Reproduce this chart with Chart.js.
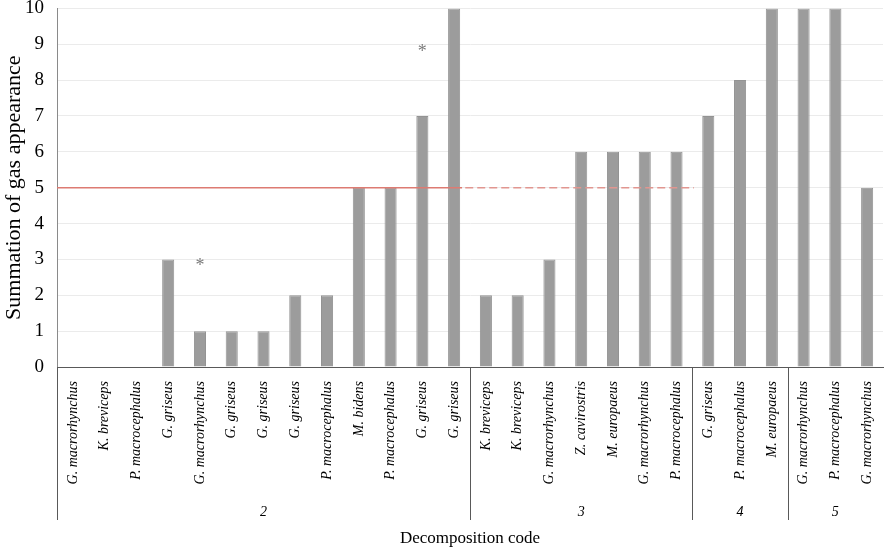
<!DOCTYPE html>
<html lang="en">
<head>
    <meta charset="UTF-8">
    <title>Summation of gas appearance</title>
    <script src="https://cdn.jsdelivr.net/npm/chart.js@4.4.0/dist/chart.umd.min.js"></script>
    <style>
        body {
            margin: 0;
            background: white;
            overflow: hidden;
        }
        .wrap {
            position: relative;
            width: 887px;
            height: 550px;
            overflow: hidden;
        }
        /* canvas is a bit larger than the window so the plot fills it like the original */
        .inner {
            position: absolute;
            left: 0;
            top: -16px;
            width: 898px;
            height: 566px;
        }
    </style>
</head>
<body>
    <div class="wrap">
        <div class="inner">
            <canvas id="gasChart"></canvas>
        </div>
    </div>

    <script>
        // species per carcass, in decomposition-code order
        const species = [
            'G. macrorhynchus', 'K. breviceps', 'P. macrocephalus', 'G. griseus', 'G. macrorhynchus',
            'G. griseus', 'G. griseus', 'G. griseus', 'P. macrocephalus', 'M. bidens',
            'P. macrocephalus', 'G. griseus', 'G. griseus',
            'K. breviceps', 'K. breviceps', 'G. macrorhynchus', 'Z. cavirostris', 'M. europaeus',
            'G. macrorhynchus', 'P. macrocephalus',
            'G. griseus', 'P. macrocephalus', 'M. europaeus',
            'G. macrorhynchus', 'P. macrocephalus', 'G. macrorhynchus'
        ];
        const gasSum = [0, 0, 0, 3, 1, 1, 1, 2, 2, 5, 5, 7, 10,
                        2, 2, 3, 6, 6, 6, 6,
                        7, 8, 10,
                        10, 10, 5];

        const groupCodes = ['2', '3', '4', '5'];
        const groupSizes = [13, 7, 3, 3];

        const yTicks = [0, 1, 2, 3, 4, 5, 6, 7, 8, 9, 10];

        // threshold at 5: solid over code 2, dashed over code 3 (category positions)
        const thresholdValue = 5;
        const thresholdSolid = [-0.5, 12.25];
        const thresholdDashed = [12.35, 19.55];

        // asterisk marks: category index and height
        const starIndex = [4, 11];
        const starValue = [2.88, 8.86];

        const serif = "'Liberation Serif', 'Times New Roman', serif";

        const extrasPlugin = {
            id: 'extras',
            afterDatasetsDraw(chart) {
                const x = chart.scales.x;
                const y = chart.scales.y;
                const ctx = chart.ctx;
                const ty = y.getPixelForValue(thresholdValue);
                ctx.save();
                ctx.lineWidth = 1.5;
                ctx.strokeStyle = '#dd7b72';
                ctx.beginPath();
                ctx.moveTo(x.getPixelForValue(thresholdSolid[0]), ty);
                ctx.lineTo(x.getPixelForValue(thresholdSolid[1]), ty);
                ctx.stroke();
                ctx.strokeStyle = '#e19690';
                ctx.setLineDash([8, 4]);
                ctx.beginPath();
                ctx.moveTo(x.getPixelForValue(thresholdDashed[0]), ty);
                ctx.lineTo(x.getPixelForValue(thresholdDashed[1]), ty);
                ctx.stroke();
                ctx.setLineDash([]);

                ctx.fillStyle = '#7a7a7a';
                ctx.font = '18px ' + serif;
                ctx.textAlign = 'center';
                ctx.textBaseline = 'middle';
                starIndex.forEach((idx, i) => {
                    ctx.fillText('*', x.getPixelForValue(idx), y.getPixelForValue(starValue[i]) + 3);
                });
                ctx.restore();
            },
            afterDraw(chart) {
                const x = chart.scales.x;
                const ctx = chart.ctx;
                const half = (x.getPixelForValue(1) - x.getPixelForValue(0)) / 2;
                const top = chart.chartArea.bottom;
                ctx.save();
                ctx.strokeStyle = '#595959';
                ctx.lineWidth = 1;
                ctx.fillStyle = '#000';
                ctx.font = 'italic 14px ' + serif;
                ctx.textAlign = 'center';
                ctx.textBaseline = 'middle';
                let start = 0;
                groupCodes.forEach((code, i) => {
                    const end = start + groupSizes[i];
                    const x0 = x.getPixelForValue(start) - half;
                    const x1 = x.getPixelForValue(end - 1) + half;
                    ctx.beginPath();
                    ctx.moveTo(Math.round(x0) + 0.5, top);
                    ctx.lineTo(Math.round(x0) + 0.5, top + 153);
                    ctx.stroke();
                    ctx.fillText(code, (x0 + x1) / 2, top + 145);
                    start = end;
                });
                ctx.restore();
            }
        };

        const ctx = document.getElementById('gasChart').getContext('2d');
        new Chart(ctx, {
            type: 'bar',
            data: {
                labels: species,
                datasets: [{
                    data: gasSum,
                    backgroundColor: '#9c9c9c',
                    borderColor: '#939393',
                    borderWidth: 1,
                    grouped: false,
                    barPercentage: 0.38,
                    categoryPercentage: 1.0
                }]
            },
            options: {
                responsive: true,
                maintainAspectRatio: false,
                animation: false,
                layout: {
                    padding: {top: 0, right: 3, bottom: 0, left: 0}
                },
                plugins: {
                    legend: {display: false},
                    tooltip: {enabled: false}
                },
                scales: {
                    x: {
                        offset: true,
                        grid: {display: false, drawTicks: false},
                        border: {display: true, color: '#595959', width: 1},
                        ticks: {
                            autoSkip: false,
                            minRotation: 90,
                            maxRotation: 90,
                            padding: 14,
                            color: '#000',
                            font: {family: serif, size: 14, style: 'italic'}
                        },
                        title: {
                            display: true,
                            text: 'Decomposition code',
                            color: '#000',
                            font: {family: serif, size: 17},
                            padding: {top: 0, bottom: 1}
                        },
                        afterFit(scale) { scale.height = 183; }
                    },
                    y: {
                        min: 0,
                        max: 10,
                        afterBuildTicks(scale) {
                            scale.ticks = yTicks.map(v => ({value: v}));
                        },
                        grid: {color: '#ebebeb', drawTicks: false},
                        border: {display: true, color: '#8a8a8a', width: 1},
                        ticks: {
                            padding: 13,
                            color: '#000',
                            font: {family: serif, size: 19}
                        },
                        title: {
                            display: true,
                            text: 'Summation of gas appearance',
                            color: '#000',
                            font: {family: serif, size: 22},
                            padding: {top: 1, bottom: 0}
                        },
                        afterFit(scale) { scale.width = 57; }
                    }
                }
            },
            plugins: [extrasPlugin]
        });
    </script>
</body>
</html>
